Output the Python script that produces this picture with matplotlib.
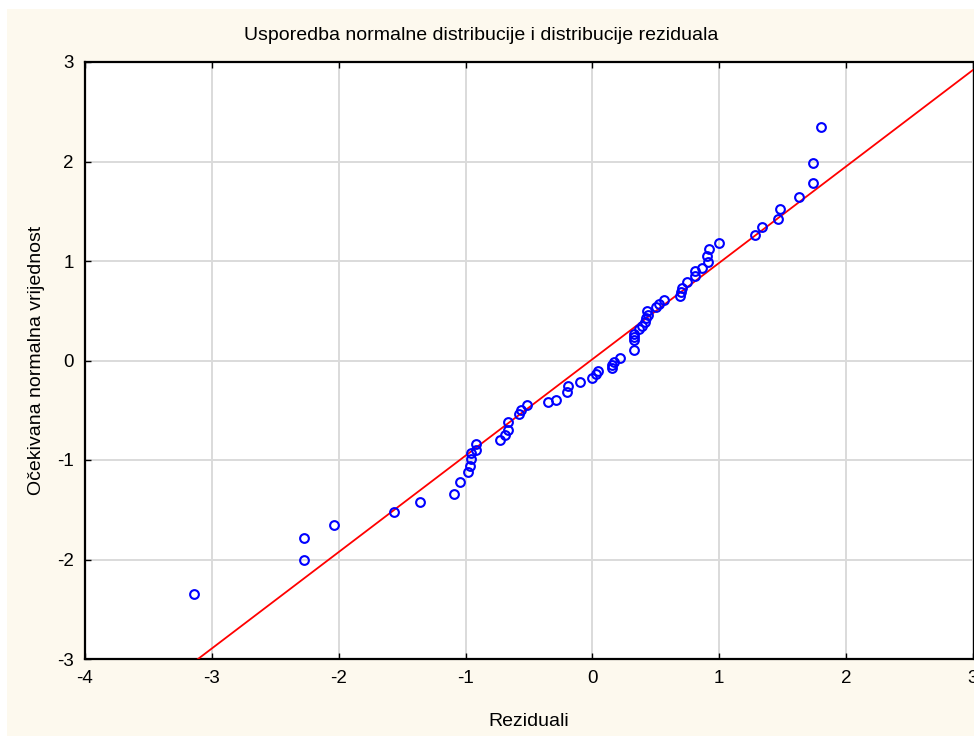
import numpy as np
import matplotlib
matplotlib.use('Agg')
import matplotlib.pyplot as plt
from matplotlib.patches import Rectangle

plt.rcParams['font.family'] = ['Liberation Sans', 'DejaVu Sans']
plt.rcParams['axes.unicode_minus'] = False

# residuals (x) vs expected normal value (y)
reziduali = [
    -3.14, -2.27, -2.27, -2.04, -1.565, -1.362, -1.094, -1.045, -0.982, -0.969,
    -0.955, -0.955, -0.916, -0.921, -0.732, -0.693, -0.664, -0.669, -0.575, -0.562,
    -0.514, -0.352, -0.289, -0.197, -0.192, -0.10, -0.005, 0.026, 0.047, 0.152,
    0.152, 0.168, 0.215, 0.325, 0.325, 0.325, 0.33, 0.37, 0.391, 0.412,
    0.423, 0.436, 0.433, 0.501, 0.528, 0.562, 0.691, 0.701, 0.703, 0.746,
    0.811, 0.806, 0.864, 0.911, 0.906, 0.921, 1.0, 1.283, 1.333, 1.459,
    1.475, 1.632, 1.740, 1.738, 1.801,
]
ocekivana = [
    -2.35, -2.01, -1.785, -1.65, -1.525, -1.42, -1.34, -1.22, -1.12, -1.06,
    -0.99, -0.93, -0.90, -0.835, -0.80, -0.752, -0.695, -0.615, -0.542, -0.498,
    -0.451, -0.418, -0.398, -0.318, -0.258, -0.217, -0.177, -0.134, -0.107, -0.08,
    -0.047, -0.013, 0.03, 0.107, 0.204, 0.237, 0.27, 0.32, 0.351, 0.384,
    0.428, 0.461, 0.494, 0.539, 0.572, 0.612, 0.645, 0.692, 0.732, 0.785,
    0.852, 0.896, 0.930, 0.986, 1.046, 1.116, 1.177, 1.257, 1.341, 1.421,
    1.522, 1.642, 1.782, 1.983, 2.347,
]

# reference line
line_intercept = 0.013
line_slope = 0.969

x_ticks = [-4, -3, -2, -1, 0, 1, 2, 3]
y_ticks = [-3, -2, -1, 0, 1, 2, 3]

fig = plt.figure(figsize=(9.74, 7.36), dpi=100, facecolor='white')
# cream panel behind everything
fig.patches.append(Rectangle((7 / 974, 0), 1 - 7 / 974, 1 - 9 / 736,
                             transform=fig.transFigure, facecolor='#fdf9ee',
                             edgecolor='none', zorder=-10))

ax = fig.add_axes([85 / 974, 77 / 736, 888 / 974, 597 / 736])
ax.set_facecolor('white')

ax.set_xlim(-4, 3)
ax.set_ylim(-3, 3)
ax.set_xticks(x_ticks)
ax.set_yticks(y_ticks)
ax.grid(True, color='#dadada', linewidth=1.4)
ax.set_axisbelow(True)

xl = np.array([-4.0, 3.0])
ax.plot(xl, line_intercept + line_slope * xl, color='#ff0000', linewidth=1.3, zorder=3)
ax.plot(reziduali, ocekivana, linestyle='none', marker='o', markersize=6.3,
        markerfacecolor='none', markeredgecolor='#0000ff', markeredgewidth=1.5,
        zorder=4, clip_on=False)

for side in ['left', 'bottom', 'top']:
    ax.spines[side].set_linewidth(1.6)
ax.spines['right'].set_linewidth(0.8)
ax.tick_params(direction='in', length=4, width=1, labelsize=13.5,
               top=True, right=False, pad=8)

fig.text(481 / 974, 1 - 36 / 736,
         'Usporedba normalne distribucije i distribucije reziduala',
         ha='center', va='center', fontsize=14)
ax.set_xlabel('Reziduali', fontsize=14, labelpad=19)
ax.set_ylabel('Očekivana normalna vrijednost', fontsize=14, labelpad=9)

fig.savefig('out.png', dpi=100, facecolor=fig.get_facecolor())
